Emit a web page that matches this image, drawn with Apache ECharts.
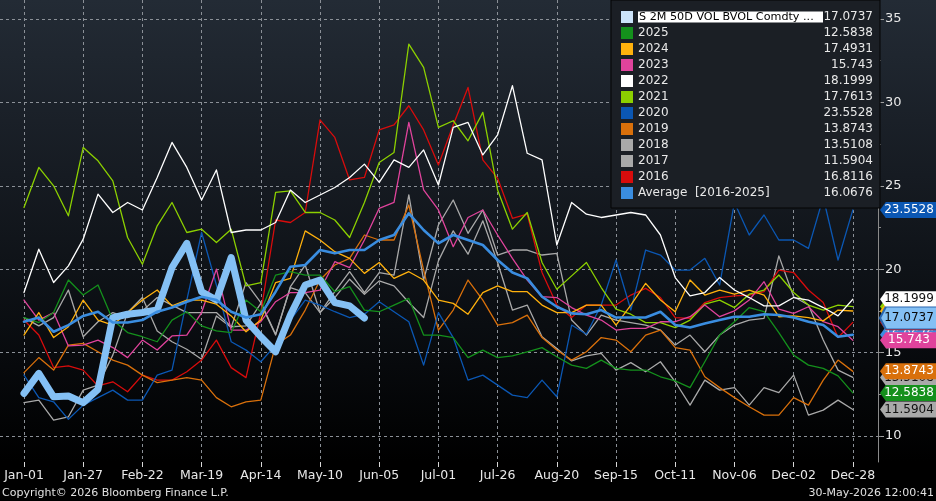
<!DOCTYPE html>
<html>
<head>
<meta charset="utf-8">
<script src="https://cdn.jsdelivr.net/npm/echarts@6.0.0/dist/echarts.min.js"></script>
<style>
html, body { margin: 0; padding: 0; background: #000; }
#chart { width: 936px; height: 501px; }
</style>
</head>
<body>
<div id="chart"></div>
<script>
// x positions: day of year, one sample every 6.5 days (4 samples per tick step)
var days = [];
for (var i = 0; i < 57; i++) days.push(i * 6.5);

// axis ticks
var tickDays = [0, 26, 52, 78, 104, 130, 156, 182, 208, 234, 260, 286, 312, 338, 364];
var tickLabels = ['Jan-01', 'Jan-27', 'Feb-22', 'Mar-19', 'Apr-14', 'May-10', 'Jun-05', 'Jul-01',
                  'Jul-26', 'Aug-20', 'Sep-15', 'Oct-11', 'Nov-06', 'Dec-02', 'Dec-28'];
var yTicks = [10, 15, 20, 25, 30, 35];
var yMinorTicks = [10, 12.5, 15, 17.5, 20, 22.5, 25, 27.5, 30, 32.5, 35];

// current year (ends late May)
var cur = [12.55, 13.75, 12.35, 12.4, 12.0, 12.8, 17.1, 17.3, 17.4, 17.55, 20.1, 21.55, 18.65, 18.15, 20.7, 16.95,
           15.95, 15.05, 17.25, 19.05, 19.35, 18.0, 17.8, 17.0737];

var y2025 = [17.1, 16.8, 17.4, 19.35, 18.45, 19.05, 16.95, 16.2, 15.95, 15.65, 16.95, 17.45, 16.6, 16.3, 16.2, 18.15,
             17.45, 19.65, 19.85, 19.65, 19.65, 18.65, 18.95, 17.55, 17.45, 17.85, 18.25, 16.05, 16.05, 15.9, 14.7,
             15.15, 14.7, 14.8, 15.05, 15.3, 14.75, 14.25, 14.05, 14.55, 14.05, 13.95, 13.95, 13.55, 13.3, 12.9, 14.45,
             16.05, 16.85, 17.7, 17.45, 16.2, 14.85, 14.25, 14.05, 13.6, 12.5838];
var y2024 = [16.05, 17.4, 15.9, 16.55, 18.15, 16.95, 16.65, 17.4, 18.15, 18.75, 17.8, 18.15, 18.15, 17.9, 17.2, 16.25,
             16.95, 19.2, 19.45, 22.3, 21.75, 21.05, 20.65, 19.75, 20.4, 19.45, 19.85, 19.35, 18.15, 17.95, 17.3,
             18.6, 19.0, 18.65, 18.65, 17.85, 17.4, 17.4, 17.85, 17.85, 16.65, 17.85, 19.15, 18.15, 17.45, 19.35, 18.45,
             18.75, 18.5, 18.75, 18.45, 17.15, 17.2, 17.1, 16.9, 17.55, 17.4931];
var y2023 = [18.15, 16.95, 17.4, 15.4, 15.45, 15.75, 15.3, 14.7, 15.75, 15.15, 16.0, 16.05, 17.4, 20.0, 16.35, 16.35,
             16.85, 18.05, 18.6, 18.6, 18.75, 20.45, 20.1, 21.75, 23.65, 24.0, 28.8, 24.75, 23.55, 21.35, 23.1,
             23.55, 22.05, 20.65, 19.35, 18.35, 18.3, 17.7, 17.25, 16.95, 16.35, 16.45, 16.45, 16.85, 16.85, 17.15, 17.85,
             17.15, 17.5, 18.15, 19.25, 17.6, 17.35, 17.75, 16.85, 16.55, 15.743];
var y2022 = [18.6, 21.2, 19.2, 20.2, 21.8, 24.5, 23.4, 24.0, 23.55, 25.5, 27.6, 26.1, 24.15, 25.95, 22.2, 22.35,
             22.35, 22.8, 24.75, 24.0, 24.45, 24.9, 25.5, 26.3, 25.2, 26.55, 26.1, 27.15, 25.05, 28.5, 28.8,
             26.85, 28.05, 31.0, 26.95, 26.55, 21.45, 24.0, 23.3, 23.1, 23.25, 23.4, 23.25, 22.05, 19.5, 18.4, 18.6,
             19.5, 18.75, 18.3, 17.8, 17.8, 18.3, 18.15, 17.7, 17.2, 18.1999];
var y2021 = [23.7, 26.1, 25.0, 23.2, 27.3, 26.5, 25.3, 21.9, 20.3, 22.6, 24.0, 22.2, 22.4, 21.6, 22.4, 19.0,
             19.2, 24.6, 24.7, 23.4, 23.4, 22.95, 21.9, 24.0, 26.4, 27.0, 33.5, 32.1, 28.5, 28.9, 27.7,
             29.4, 24.75, 22.4, 23.4, 20.4, 18.8, 19.6, 20.4, 18.9, 17.6, 17.3, 16.8, 16.8, 16.5, 16.95, 17.9,
             18.15, 17.7, 18.5, 18.75, 19.65, 18.6, 17.85, 17.55, 17.85, 17.7613];
var y2020 = [13.65, 12.3, 12.05, 11.0, 11.85, 12.3, 12.75, 12.15, 12.15, 13.65, 13.95, 18.15, 22.2, 19.05, 15.65, 15.15,
             14.45, 15.45, 16.95, 18.15, 17.85, 17.45, 17.1, 17.3, 18.05, 17.45, 16.85, 14.25, 17.4, 15.9, 13.35,
             13.65, 13.05, 12.45, 12.3, 13.35, 12.35, 16.65, 16.1, 17.85, 20.55, 17.55, 21.15, 20.85, 19.95, 19.95, 20.65,
             19.05, 24.0, 22.05, 23.25, 21.75, 21.75, 21.25, 24.3, 20.55, 23.5528];
var y2019 = [13.8, 14.7, 13.95, 15.45, 15.55, 15.05, 14.55, 14.25, 13.65, 13.2, 13.35, 13.5, 13.35, 12.3, 11.75, 12.05,
             12.15, 15.45, 16.05, 17.55, 19.35, 20.25, 20.65, 22.05, 21.75, 21.75, 23.85, 19.95, 16.35, 17.55, 19.35,
             18.15, 16.65, 16.8, 17.25, 15.9, 15.15, 14.55, 15.05, 15.9, 15.75, 15.05, 16.05, 16.35, 15.3, 15.15, 13.55,
             12.9, 12.3, 11.75, 11.25, 11.25, 12.3, 11.85, 13.35, 14.55, 13.8743];
var y2018 = [17.1, 16.6, 17.1, 18.75, 15.95, 16.85, 17.4, 17.1, 17.5, 18.3, 17.85, 17.4, 17.4, 17.4, 16.55, 16.6,
             17.95, 16.05, 18.95, 20.25, 17.4, 18.65, 19.85, 18.6, 19.8, 19.65, 24.45, 19.35, 22.65, 24.15, 22.15,
             23.55, 20.85, 21.15, 21.15, 20.85, 20.95, 16.95, 16.05, 17.25, 16.95, 16.8, 16.65, 16.35, 15.45, 16.05, 15.05,
             16.05, 16.65, 16.95, 17.05, 20.8, 18.35, 17.85, 15.75, 13.95, 13.5108];
var y2017 = [12.0, 12.15, 10.95, 11.15, 12.75, 13.05, 14.85, 17.4, 18.3, 16.3, 15.65, 15.2, 14.6, 17.2, 16.5, 19.2,
             18.0, 16.1, 18.9, 18.6, 17.4, 18.3, 19.4, 18.5, 19.3, 19.0, 18.0, 17.1, 20.5, 22.3, 20.9,
             22.9, 20.4, 17.55, 17.85, 15.95, 15.25, 14.5, 14.8, 14.95, 13.95, 14.4, 13.85, 14.45, 13.25, 11.85, 13.35,
             12.75, 12.9, 11.85, 12.9, 12.6, 13.65, 11.25, 11.55, 12.15, 11.5904];
var y2016 = [16.95, 16.05, 14.1, 14.2, 13.95, 13.0, 13.25, 12.65, 13.65, 13.35, 13.35, 13.85, 14.55, 15.75, 14.1, 13.5,
             17.4, 22.95, 22.8, 23.4, 28.95, 27.9, 25.35, 25.5, 28.35, 28.65, 29.8, 28.35, 26.25, 28.65, 30.9,
             26.55, 25.45, 23.05, 23.3, 19.8, 17.85, 17.1, 17.85, 17.85, 17.85, 18.45, 18.85, 18.3, 17.1, 17.05, 18.0,
             18.3, 18.4, 18.45, 18.65, 19.95, 19.8, 18.75, 18.0, 15.9, 16.8116];
var avg = [16.85, 17.1, 16.25, 16.65, 17.2, 17.45, 16.8, 16.8, 16.95, 17.45, 17.7, 18.05, 18.35, 18.15, 17.45, 17.1,
           17.3, 18.65, 20.15, 20.25, 21.15, 20.95, 21.15, 21.15, 21.75, 22.05, 23.35, 22.35, 21.55, 22.05, 21.75,
           21.45, 20.55, 19.8, 19.45, 18.35, 17.75, 17.35, 17.3, 17.55, 17.1, 17.1, 17.1, 17.45, 16.65, 16.5, 16.75,
           16.95, 17.15, 17.15, 17.3, 17.25, 17.1, 16.85, 16.65, 15.95, 16.0676];

var CUR_NAME = 'S 2M 50D VOL BVOL Comdty ...';
var AVG_NAME = 'Average  [2016-2025]';

// axis extents so the plot fills the frame like the terminal screenshot
var X_MIN = -10.54, X_MAX = 375.05;
var Y_MIN = 8.44, Y_MAX = 36.14;
var FONT = 'DejaVu Sans';

// draw order: first = bottom
var lines = [
    { name: '2017', data: y2017, color: '#a9a9a9', width: 1.3 },
    { name: '2018', data: y2018, color: '#a9a9a9', width: 1.3 },
    { name: '2016', data: y2016, color: '#d80c0c', width: 1.3 },
    { name: '2019', data: y2019, color: '#d9700b', width: 1.3 },
    { name: '2020', data: y2020, color: '#0b57b3', width: 1.3 },
    { name: '2021', data: y2021, color: '#8cd000', width: 1.3 },
    { name: '2023', data: y2023, color: '#e0439c', width: 1.3 },
    { name: '2024', data: y2024, color: '#ffb10d', width: 1.3 },
    { name: '2025', data: y2025, color: '#14901c', width: 1.3 },
    { name: '2022', data: y2022, color: '#ffffff', width: 1.3 },
    { name: CUR_NAME, data: cur, color: '#84c0f4', icon: '#cde4fa', width: 7 },
    { name: AVG_NAME, data: avg, color: '#3a8de0', width: 2.6 }
];

var legendOrder = [CUR_NAME, '2025', '2024', '2023', '2022', '2021', '2020', '2019', '2018', '2017', '2016', AVG_NAME];

// value tags on the right axis, bottom to top
var tagOrder = [
    { name: '2021', text: '#111' }, { name: '2024', text: '#111' }, { name: '2022', text: '#111' },
    { name: AVG_NAME, text: '#fff' }, { name: '2016', text: '#fff' },
    { name: CUR_NAME, text: '#0a0a0a', border: '#2a67b0', h: 22 },
    { name: '2023', text: '#fff' }, { name: '2018', text: '#111' }, { name: '2019', text: '#fff' },
    { name: '2025', text: '#fff' }, { name: '2017', text: '#111' }, { name: '2020', text: '#fff' }
];

var byName = {};
lines.forEach(function (l) { byName[l.name] = l; });
function lastOf(name) { var d = byName[name].data; return d[d.length - 1]; }

var series = lines.map(function (l) {
    return {
        name: l.name,
        type: 'line',
        data: l.data.map(function (v, i) { return [days[i], v]; }),
        symbol: 'none',
        lineStyle: { color: l.color, width: l.width, cap: 'round', join: 'round' },
        itemStyle: { color: l.icon || l.color },
        emphasis: { disabled: true }
    };
});

// one helper series per tag so every tag (box + text) stacks as a unit
tagOrder.forEach(function (t, k) {
    var l = byName[t.name];
    var v = lastOf(t.name);
    series.push({
        name: 'tag ' + t.name,
        type: 'line',
        data: [],
        silent: true,
        markPoint: {
            z: 10 + k,
            symbol: 'path://M0,8 L6,0 L60,0 L60,16 L6,16 Z',
            symbolSize: [58, t.h || 16],
            symbolOffset: [31, 0],
            symbolKeepAspect: false,
            animation: false,
            itemStyle: { color: l.color, borderColor: t.border || 'transparent', borderWidth: t.border ? 1.5 : 0 },
            label: { show: true, position: 'inside', color: t.text, fontFamily: FONT, fontSize: 12,
                     formatter: String(v) },
            data: [{ coord: [X_MAX, v], value: v }]
        }
    });
});

var chart = echarts.init(document.getElementById('chart'), null, { renderer: 'canvas' });

var option = {
    animation: false,
    backgroundColor: new echarts.graphic.LinearGradient(0, 0, 0, 1, [
        { offset: 0, color: '#232b35' },
        { offset: 0.35, color: '#161b22' },
        { offset: 0.65, color: '#0a0d11' },
        { offset: 0.92, color: '#000000' }
    ]),
    title: [
        { text: 'Copyright\u00a9 2026 Bloomberg Finance L.P.', left: 2, bottom: 2, padding: 0,
          textStyle: { color: '#e0e0e0', fontSize: 11, fontWeight: 'normal', fontFamily: FONT } },
        { text: '30-May-2026 12:00:41', right: 2, bottom: 2, padding: 0,
          textStyle: { color: '#e0e0e0', fontSize: 11, fontWeight: 'normal', fontFamily: FONT } }
    ],
    grid: { left: 0, right: 58, top: 0, bottom: 39 },
    legend: {
        orient: 'vertical',
        left: 611,
        top: 0,
        padding: [9, 7, 7, 10],
        itemWidth: 12,
        itemHeight: 12,
        itemGap: 0,
        icon: 'rect',
        selectedMode: false,
        backgroundColor: '#1b1f25',
        borderColor: '#050505',
        borderWidth: 1,
        data: legendOrder,
        formatter: function (name) {
            var v = String(lastOf(name));
            if (name === CUR_NAME) return '{h|' + name + '}{w|' + v + '}';
            return '{n|' + name + '}{v|' + v + '}';
        },
        textStyle: {
            color: '#e8e8e8', fontFamily: FONT, fontSize: 12, lineHeight: 16,
            rich: {
                h: { width: 184, color: '#000', backgroundColor: '#ffffff', fontFamily: FONT, fontSize: 11.2,
                     lineHeight: 15, padding: [0, 0, 0, 1] },
                w: { width: 50, align: 'right', color: '#e8e8e8', fontFamily: FONT, fontSize: 12 },
                n: { width: 170, color: '#e8e8e8', fontFamily: FONT, fontSize: 12 },
                v: { width: 65, align: 'right', color: '#e8e8e8', fontFamily: FONT, fontSize: 12 }
            }
        }
    },
    xAxis: {
        type: 'value',
        min: X_MIN,
        max: X_MAX,
        axisLine: { show: false, onZero: false },
        axisTick: { show: true, customValues: tickDays, length: 5, lineStyle: { color: '#d8d8d8' } },
        axisLabel: {
            customValues: tickDays,
            formatter: function (v) { return tickLabels[Math.round(v / 26)]; },
            color: '#e8e8e8', fontFamily: FONT, fontSize: 12.5, margin: 7
        },
        splitLine: { show: true, lineStyle: { color: '#8b9097', width: 1, type: [3, 3] } }
    },
    yAxis: [
        {
            type: 'value',
            position: 'right',
            min: Y_MIN,
            max: Y_MAX,
            axisLine: { show: true, onZero: false, lineStyle: { color: '#8a8a8a' } },
            axisTick: { show: true, customValues: yTicks, length: 6, lineStyle: { color: '#a0a0a0' } },
            axisLabel: {
                customValues: yTicks,
                formatter: function (v) { return String(v); },
                color: '#e8e8e8', fontFamily: FONT, fontSize: 13, margin: 7
            },
            splitLine: { show: true, lineStyle: { color: '#8b9097', width: 1, type: [3, 3] } }
        },
        {
            type: 'value',
            position: 'right',
            min: Y_MIN,
            max: Y_MAX,
            axisLine: { show: false, onZero: false },
            axisTick: { show: true, customValues: yMinorTicks, length: 3, lineStyle: { color: '#8a8a8a' } },
            axisLabel: { show: false },
            splitLine: { show: false }
        }
    ],
    series: series
};

chart.setOption(option);
</script>
</body>
</html>
